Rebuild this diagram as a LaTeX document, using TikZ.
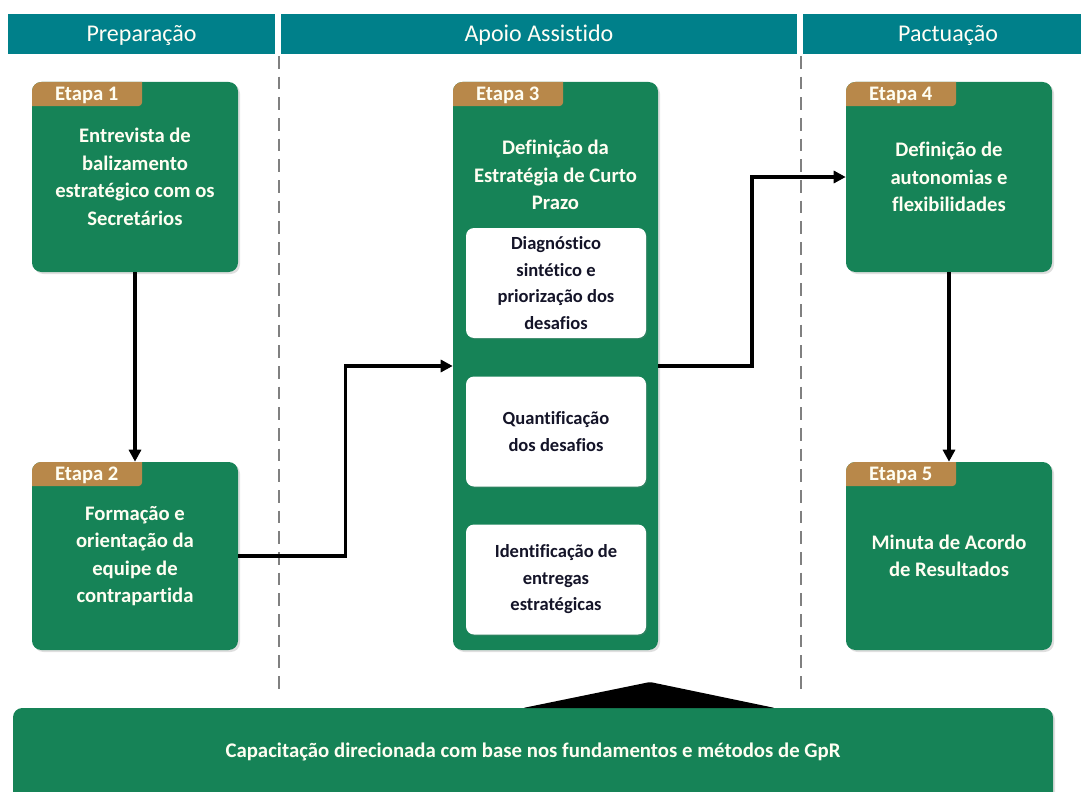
\documentclass[tikz,border=0pt]{standalone}
\usepackage{fontspec}
\setmainfont{Carlito}[Ligatures=NoCommon]
\usetikzlibrary{shadows,arrows.meta,calc}
\definecolor{gr}{HTML}{168357}
\definecolor{teal2}{HTML}{00808A}
\definecolor{tabc}{HTML}{B8884A}
\definecolor{dgray}{HTML}{808080}
\definecolor{ink}{HTML}{141428}
\tikzset{
  hdr/.style={fill=teal2, minimum height=30pt, inner sep=0pt, text=white!96!yellow,
    font=\fontsize{18}{20}\selectfont},
  stage/.style={fill=gr, rounded corners=7pt, minimum width=154.5pt, inner sep=0pt,
    text=white!95!yellow, align=center, font=\fontsize{15.5}{20.6}\selectfont\bfseries,
    drop shadow={shadow xshift=1.5pt, shadow yshift=-1.5pt, opacity=0.25},
    path picture={\fill[tabc, rounded corners=2.5pt]
      ([xshift=-6pt,yshift=6pt]path picture bounding box.north west) rectangle
      ([xshift=82.5pt,yshift=-18pt]path picture bounding box.north west);}},
  tablabel/.style={text=white!95!yellow, inner sep=0pt, font=\fontsize{15.5}{16}\selectfont\bfseries},
  inner/.style={fill=white, rounded corners=6pt, minimum width=135pt, minimum height=82.5pt,
    inner sep=0pt, align=center, text=ink, font=\fontsize{13.9}{19.9}\selectfont\bfseries,
    drop shadow={shadow xshift=1pt, shadow yshift=-1pt, opacity=0.2}},
  divider/.style={dgray, line width=1.7pt, dash pattern=on 9.5pt off 6pt},
  arr/.style={line width=2.6pt, -{Triangle[length=9pt,width=9pt]}},
}
\begin{document}
\begin{tikzpicture}[x=0.75pt,y=-0.75pt]
\useasboundingbox (0,0) rectangle (1081,792);
\clip (0,0) rectangle (1081,792);
% headers
\node[hdr, minimum width=200.25pt] (h1) at (141.5,34) {};
\node[hdr, minimum width=387pt] (h2) at (539,34) {};
\node[hdr, minimum width=217.5pt] (h3) at (948,34) {};
\node[text=white!96!yellow, font=\fontsize{18}{20}\selectfont, anchor=base] (h1t) at (141.5,42) {Preparação};
\node[text=white!96!yellow, font=\fontsize{18}{20}\selectfont, anchor=base] (h2t) at (539,42) {Apoio Assistido};
\node[text=white!96!yellow, font=\fontsize{18}{20}\selectfont, anchor=base] (h3t) at (948,42) {Pactuação};
% dividers
\draw[divider] (279,56) -- (279,695);
\draw[divider] (801,56) -- (801,695);
% stages
\node[stage, minimum height=142.5pt] (e1) at (135,177) {Entrevista de\\balizamento\\estratégico com os\\Secretários};
\node[stage, minimum height=141pt] (e2) at (135,556) {Formação e\\orientação da\\equipe de\\contrapartida};
\node[stage, minimum width=153.75pt, minimum height=426pt] (e3) at (555.5,366) {};
\node[stage, minimum height=142.5pt] (e4) at (949,177) {Definição de\\autonomias e\\flexibilidades};
\node[stage, minimum height=141pt] (e5) at (949,556) {Minuta de Acordo\\de Resultados};
% tab labels
\node[tablabel] (t1) at ([xshift=41.25pt,yshift=-10.5pt]e1.north west) {Etapa 1};
\node[tablabel] (t2) at ([xshift=41.25pt,yshift=-10.5pt]e2.north west) {Etapa 2};
\node[tablabel] (t3) at ([xshift=41.25pt,yshift=-10.5pt]e3.north west) {Etapa 3};
\node[tablabel] (t4) at ([xshift=41.25pt,yshift=-10.5pt]e4.north west) {Etapa 4};
\node[tablabel] (t5) at ([xshift=41.25pt,yshift=-10.5pt]e5.north west) {Etapa 5};
% etapa 3 content
\node[text=white!95!yellow, align=center, font=\fontsize{15.5}{20.6}\selectfont\bfseries] (e3t) at (555.5,175) {Definição da\\Estratégia de Curto\\Prazo};
\node[inner] (i1) at (556,283) {Diagnóstico\\sintético e\\priorização dos\\desafios};
\node[inner] (i2) at (556,431.5) {Quantificação\\dos desafios};
\node[inner] (i3) at (556,579.5) {Identificação de\\entregas\\estratégicas};
% connectors
\draw[arr] (e1.south) -- (e2.north);
\draw[arr] (e4.south) -- (e5.north);
\coordinate (m1) at ($(e2.east)!0.5!(e3.west)$);
\draw[arr] (e2.east) -| (m1) |- (e3.west);
\coordinate (m2) at ($(e3.east)!0.5!(e4.west)$);
\draw[arr] (e3.east) -| (m2) |- (e4.west);
% bottom bar
\node[fill=gr, rounded corners=7pt, minimum width=780pt, minimum height=90pt, inner sep=0pt,
  drop shadow={shadow xshift=1.5pt, shadow yshift=-1.5pt, opacity=0.25}] (bar) at (533,768) {};
\node[text=white!95!yellow, font=\fontsize{15.6}{18}\selectfont\bfseries] (bart) at (533,752) {Capacitação direcionada com base nos fundamentos e métodos de GpR};
\fill[black, rounded corners=1pt] (523,708) -- (650,682) -- (775,708) -- cycle;
\end{tikzpicture}
\end{document}
